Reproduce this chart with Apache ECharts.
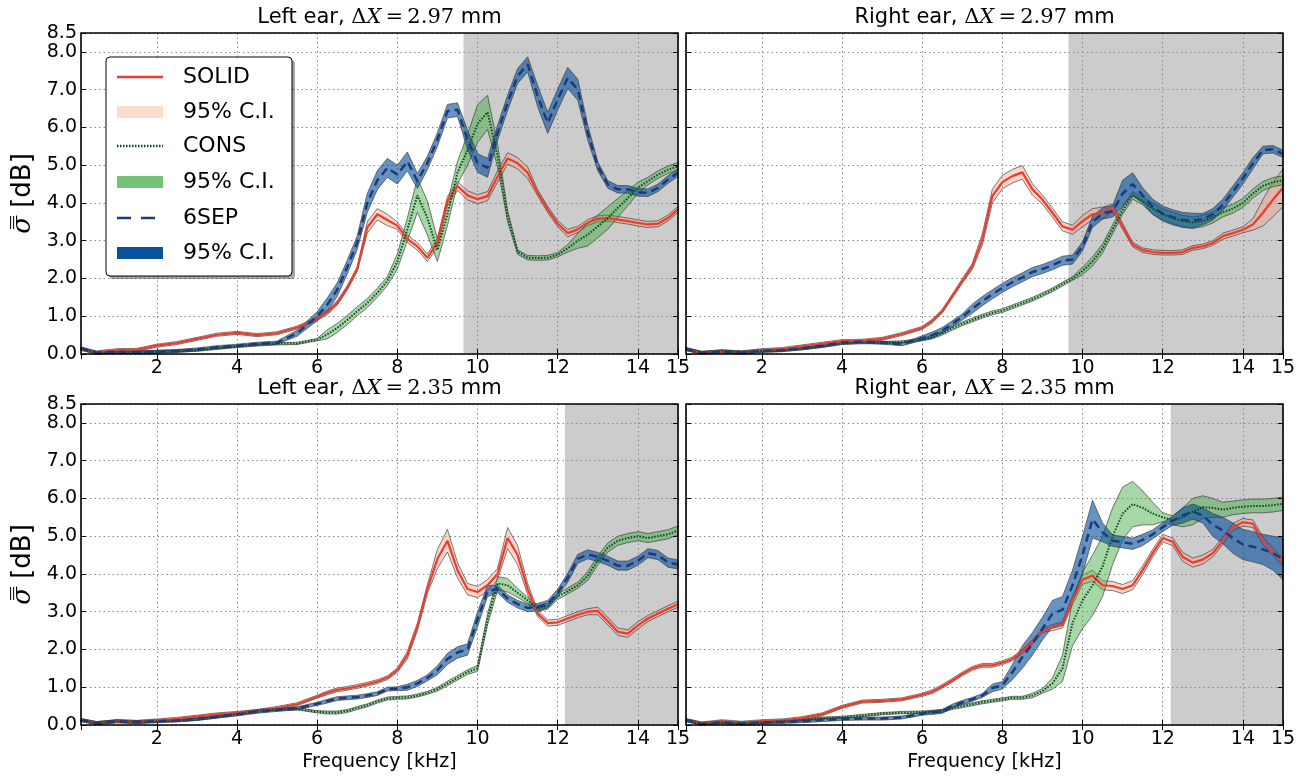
<!DOCTYPE html>
<html>
<head>
<meta charset="utf-8">
<title>sigma per ear</title>
<script src="https://cdn.jsdelivr.net/npm/echarts@6.0.0/dist/echarts.min.js"></script>
<style>
html, body { margin: 0; padding: 0; background: #fff; }
#chart { width: 1307px; height: 778px; }
</style>
</head>
<body>
<div id="chart"></div>
<script>
// frequency grid (kHz), shared by every curve
var F = [0.11,0.5,1,1.5,2,2.5,3,3.5,4,4.5,5,5.5,6,
  6.25,6.5,6.75,7,7.25,7.5,7.75,8,8.25,8.5,8.75,9,9.25,9.5,9.75,10,10.25,10.5,10.75,
  11,11.25,11.5,11.75,12,12.25,12.5,12.75,13,13.25,13.5,13.75,14,14.25,14.5,14.75,15];

// ---- Left ear, dX = 2.97 mm
var tlSolid = [0.13,0.04,0.10,0.11,0.22,0.29,0.40,0.51,0.56,0.50,0.55,0.70,0.93,
  1.10,1.35,1.75,2.25,3.35,3.70,3.55,3.40,3.05,2.85,2.55,2.95,4.05,4.45,4.20,4.10,4.18,4.70,5.18,
  5.05,4.80,4.27,3.83,3.45,3.20,3.30,3.48,3.58,3.60,3.56,3.52,3.47,3.43,3.45,3.60,3.83];
var tlSolidHw = [0.04,0.04,0.04,0.04,0.04,0.04,0.04,0.04,0.04,0.04,0.04,0.04,0.04,
  0.06,0.06,0.06,0.06,0.15,0.15,0.15,0.10,0.10,0.10,0.10,0.12,0.12,0.12,0.12,0.12,0.12,0.15,0.15,
  0.15,0.15,0.08,0.08,0.08,0.10,0.08,0.08,0.08,0.08,0.08,0.08,0.08,0.08,0.08,0.08,0.08];
var tlCons = [0.14,0.03,0.05,0.04,0.06,0.08,0.10,0.15,0.20,0.24,0.27,0.28,0.38,
  0.52,0.69,0.90,1.13,1.35,1.62,1.93,2.45,3.30,4.20,3.60,2.75,3.70,4.80,5.40,6.10,6.40,5.25,3.65,
  2.70,2.55,2.54,2.55,2.63,2.80,3.00,3.16,3.38,3.60,3.87,4.13,4.40,4.58,4.75,4.88,4.97];
var tlConsHw = [0.03,0.03,0.03,0.03,0.03,0.03,0.03,0.03,0.03,0.03,0.03,0.03,0.03,
  0.12,0.12,0.12,0.12,0.12,0.12,0.12,0.20,0.30,0.45,0.45,0.30,0.30,0.30,0.40,0.50,0.45,0.30,0.15,
  0.06,0.06,0.06,0.06,0.06,0.10,0.20,0.30,0.30,0.30,0.25,0.20,0.15,0.10,0.10,0.10,0.10];
var tlSep = [0.15,0.03,0.06,0.05,0.06,0.08,0.12,0.18,0.22,0.27,0.30,0.55,1.00,
  1.30,1.70,2.30,2.95,4.00,4.60,4.93,4.75,5.10,4.58,5.06,5.68,6.43,6.47,5.68,5.06,4.93,5.86,6.65,
  7.36,7.67,6.83,6.12,6.74,7.31,7.00,5.86,4.97,4.49,4.36,4.36,4.28,4.27,4.40,4.62,4.80];
var tlSepHw = [0.04,0.04,0.04,0.04,0.04,0.04,0.04,0.04,0.04,0.04,0.04,0.08,0.12,
  0.18,0.18,0.18,0.18,0.25,0.25,0.25,0.25,0.25,0.20,0.18,0.18,0.18,0.18,0.25,0.25,0.25,0.20,0.20,
  0.20,0.20,0.28,0.28,0.28,0.28,0.28,0.20,0.12,0.10,0.10,0.10,0.10,0.10,0.10,0.10,0.10];

// ---- Right ear, dX = 2.97 mm
var trSolid = [0.13,0.03,0.07,0.04,0.10,0.13,0.20,0.27,0.34,0.35,0.40,0.53,0.69,
  0.87,1.13,1.53,1.93,2.32,3.03,4.18,4.55,4.71,4.81,4.36,4.09,3.74,3.38,3.29,3.52,3.70,3.74,3.87,
  3.38,2.90,2.75,2.70,2.68,2.68,2.70,2.81,2.85,2.94,3.12,3.20,3.29,3.43,3.74,4.09,4.40];
var trSolidHw = [0.04,0.04,0.04,0.04,0.04,0.04,0.04,0.04,0.04,0.04,0.04,0.04,0.04,
  0.05,0.05,0.05,0.06,0.08,0.15,0.18,0.18,0.18,0.18,0.15,0.12,0.12,0.12,0.12,0.15,0.15,0.15,0.10,
  0.08,0.06,0.06,0.06,0.06,0.06,0.06,0.06,0.06,0.06,0.08,0.08,0.08,0.15,0.35,0.45,0.50];
var trCons = [0.13,0.03,0.07,0.04,0.08,0.10,0.14,0.20,0.28,0.30,0.30,0.32,0.38,
  0.45,0.55,0.68,0.80,0.90,1.00,1.09,1.15,1.25,1.35,1.45,1.57,1.70,1.85,2.00,2.20,2.45,2.80,3.30,
  3.80,4.20,4.05,3.85,3.70,3.60,3.52,3.48,3.52,3.62,3.75,3.85,4.00,4.25,4.45,4.55,4.60];
var trConsHw = [0.03,0.03,0.03,0.03,0.03,0.03,0.03,0.03,0.03,0.03,0.03,0.03,0.03,
  0.05,0.05,0.05,0.05,0.05,0.05,0.05,0.05,0.05,0.05,0.05,0.05,0.05,0.05,0.05,0.10,0.12,0.12,0.12,
  0.10,0.10,0.10,0.15,0.15,0.15,0.15,0.15,0.15,0.15,0.12,0.12,0.12,0.12,0.12,0.12,0.12];
var trSep = [0.13,0.03,0.07,0.04,0.08,0.10,0.15,0.22,0.30,0.33,0.30,0.26,0.42,
  0.50,0.62,0.80,0.98,1.20,1.40,1.58,1.75,1.90,2.03,2.17,2.25,2.35,2.47,2.50,2.85,3.50,3.72,3.78,
  4.25,4.50,4.20,3.90,3.72,3.62,3.55,3.53,3.57,3.70,3.95,4.30,4.65,5.05,5.40,5.42,5.30];
var trSepHw = [0.04,0.04,0.04,0.04,0.04,0.04,0.04,0.04,0.04,0.04,0.04,0.04,0.06,
  0.08,0.08,0.08,0.08,0.12,0.12,0.12,0.12,0.12,0.12,0.12,0.12,0.12,0.12,0.12,0.12,0.15,0.15,0.15,
  0.35,0.30,0.20,0.20,0.20,0.20,0.20,0.20,0.15,0.15,0.15,0.15,0.15,0.15,0.10,0.10,0.10];

// ---- Left ear, dX = 2.35 mm
var blSolid = [0.13,0.05,0.10,0.08,0.12,0.16,0.22,0.28,0.32,0.37,0.45,0.55,0.75,
  0.85,0.93,0.97,1.02,1.08,1.15,1.25,1.45,1.85,2.60,3.60,4.40,4.88,4.10,3.60,3.52,3.70,4.00,4.95,
  4.50,3.60,2.95,2.70,2.72,2.82,2.92,3.00,3.02,2.75,2.47,2.42,2.64,2.82,2.95,3.08,3.20];
var blSolidHw = [0.04,0.04,0.04,0.04,0.04,0.04,0.04,0.04,0.04,0.04,0.04,0.04,0.04,
  0.05,0.05,0.05,0.05,0.05,0.05,0.05,0.06,0.10,0.10,0.12,0.25,0.30,0.20,0.15,0.15,0.15,0.15,0.28,
  0.25,0.15,0.08,0.08,0.08,0.08,0.08,0.08,0.10,0.10,0.10,0.10,0.10,0.08,0.08,0.08,0.08];
var blCons = [0.13,0.05,0.10,0.08,0.10,0.12,0.15,0.22,0.30,0.38,0.42,0.43,0.35,
  0.33,0.33,0.37,0.45,0.52,0.62,0.70,0.72,0.73,0.78,0.85,0.95,1.10,1.25,1.40,1.50,2.80,3.75,3.70,
  3.50,3.30,3.08,3.15,3.40,3.55,3.70,3.95,4.36,4.70,4.88,4.95,5.00,4.95,5.00,5.05,5.15];
var blConsHw = [0.03,0.03,0.03,0.03,0.03,0.03,0.03,0.03,0.03,0.03,0.03,0.03,0.03,
  0.04,0.04,0.04,0.04,0.04,0.04,0.04,0.04,0.04,0.04,0.04,0.05,0.06,0.06,0.06,0.08,0.15,0.18,0.18,
  0.12,0.08,0.08,0.08,0.08,0.08,0.08,0.12,0.12,0.12,0.12,0.12,0.12,0.12,0.12,0.12,0.12];
var blSep = [0.13,0.05,0.10,0.08,0.10,0.12,0.16,0.22,0.28,0.35,0.40,0.44,0.56,
  0.63,0.70,0.72,0.74,0.78,0.83,0.95,0.96,1.00,1.10,1.25,1.45,1.75,1.92,2.00,2.80,3.55,3.60,3.35,
  3.20,3.10,3.12,3.20,3.50,3.90,4.40,4.52,4.45,4.35,4.22,4.22,4.35,4.55,4.50,4.30,4.25];
var blSepHw = [0.04,0.04,0.04,0.04,0.04,0.04,0.04,0.04,0.04,0.04,0.04,0.04,0.04,
  0.05,0.05,0.05,0.05,0.05,0.05,0.05,0.05,0.08,0.08,0.08,0.12,0.15,0.15,0.15,0.20,0.15,0.10,0.10,
  0.10,0.10,0.10,0.10,0.10,0.12,0.12,0.12,0.12,0.12,0.12,0.12,0.12,0.12,0.12,0.12,0.12];

// ---- Right ear, dX = 2.35 mm
var brSolid = [0.13,0.04,0.10,0.06,0.10,0.12,0.18,0.28,0.48,0.62,0.64,0.68,0.80,
  0.88,1.02,1.18,1.35,1.50,1.58,1.58,1.65,1.75,1.95,2.20,2.50,2.58,2.65,3.30,3.85,3.95,3.70,3.68,
  3.60,3.70,4.10,4.55,4.95,4.85,4.45,4.30,4.38,4.55,4.88,5.24,5.37,5.33,4.88,4.58,4.31];
var brSolidHw = [0.04,0.04,0.04,0.04,0.04,0.04,0.04,0.04,0.04,0.04,0.04,0.04,0.04,
  0.05,0.05,0.05,0.05,0.05,0.05,0.05,0.05,0.05,0.05,0.05,0.05,0.08,0.08,0.12,0.12,0.15,0.12,0.12,
  0.12,0.12,0.12,0.10,0.10,0.10,0.12,0.12,0.12,0.10,0.10,0.10,0.10,0.10,0.10,0.10,0.10];
var brCons = [0.13,0.03,0.07,0.04,0.07,0.10,0.13,0.18,0.20,0.25,0.30,0.33,0.34,
  0.35,0.37,0.45,0.50,0.55,0.60,0.64,0.68,0.72,0.72,0.78,0.90,1.10,1.50,2.70,3.30,3.70,4.20,5.00,
  5.60,5.85,5.75,5.60,5.50,5.42,5.50,5.65,5.77,5.75,5.70,5.75,5.78,5.80,5.80,5.82,5.86];
var brConsHw = [0.03,0.03,0.03,0.03,0.03,0.03,0.03,0.03,0.03,0.03,0.03,0.03,0.03,
  0.04,0.04,0.04,0.04,0.04,0.04,0.04,0.04,0.04,0.04,0.06,0.06,0.15,0.35,0.60,0.75,0.80,0.80,0.75,
  0.70,0.60,0.45,0.30,0.12,0.12,0.25,0.35,0.30,0.25,0.20,0.18,0.18,0.18,0.18,0.18,0.18];
var brSep = [0.13,0.03,0.07,0.04,0.07,0.08,0.10,0.13,0.16,0.17,0.17,0.20,0.30,
  0.33,0.36,0.50,0.60,0.68,0.78,0.98,1.05,1.40,1.80,2.15,2.55,2.95,3.05,3.70,4.50,5.45,5.10,4.88,
  4.84,4.80,4.90,5.05,5.24,5.41,5.55,5.65,5.55,5.30,5.15,4.95,4.78,4.72,4.65,4.55,4.40];
var brSepHw = [0.04,0.04,0.04,0.04,0.04,0.04,0.04,0.04,0.04,0.04,0.04,0.04,0.04,
  0.05,0.05,0.05,0.05,0.05,0.05,0.10,0.10,0.20,0.30,0.30,0.30,0.35,0.35,0.40,0.50,0.50,0.25,0.15,
  0.15,0.15,0.15,0.12,0.12,0.12,0.20,0.20,0.20,0.30,0.35,0.40,0.40,0.40,0.40,0.45,0.55];

var shadeStart = [9.65, 9.65, 12.18, 12.2];
var sides = ['Left', 'Right', 'Left', 'Right'];
var spacings = ['2.97', '2.97', '2.35', '2.35'];

var panels = [
  [tlSolid, tlSolidHw, tlCons, tlConsHw, tlSep, tlSepHw],
  [trSolid, trSolidHw, trCons, trConsHw, trSep, trSepHw],
  [blSolid, blSolidHw, blCons, blConsHw, blSep, blSepHw],
  [brSolid, brSolidHw, brCons, brConsHw, brSep, brSepHw]
];

var FONT = 'DejaVu Sans';
var RED = '#ee3b2b', GREEN = '#0b4a1e', NAVY = '#1d3b78';
var EDGE = 'rgba(60,60,60,0.85)';
var boxes = [[81, 33], [686, 33], [81, 404], [686, 404]];
var W = 597, H = 321;

var chart = echarts.init(document.getElementById('chart'));

function fmtX(v) {
  return Math.abs(v - Math.round(v)) < 1e-6 ? String(Math.round(v)) : '';
}

// confidence band drawn as one polygon through the axis scales
function bandSeries(g, mean, hw, fill) {
  var lo = mean.map(function (m, i) { return Math.max(0, m - hw[i]); });
  var hi = mean.map(function (m, i) { return m + hw[i]; });
  return {
    type: 'custom', xAxisIndex: g, yAxisIndex: g, silent: true, z: 2,
    encode: { x: 0, y: [1, 2] },
    data: F.map(function (f, i) { return [f, lo[i], hi[i]]; }),
    renderItem: function (params, api) {
      if (params.dataIndex !== 0) return null;
      var pts = [], i;
      for (i = 0; i < F.length; i++) pts.push(api.coord([F[i], hi[i]]));
      for (i = F.length - 1; i >= 0; i--) pts.push(api.coord([F[i], lo[i]]));
      return {
        type: 'polygon', shape: { points: pts },
        style: { fill: fill, stroke: EDGE, lineWidth: 0.8 }
      };
    }
  };
}

var grids = [], xAxes = [], yAxes = [], series = [], graphics = [];

boxes.forEach(function (b, g) {
  var isLeft = g % 2 === 0, isBottom = g >= 2;
  grids.push({
    left: b[0], top: b[1], width: W, height: H, z: 5,
    show: true, borderColor: '#000', borderWidth: 1.6, backgroundColor: 'transparent',
    outerBoundsMode: 'none'
  });
  var tick = { show: true, inside: true, length: 5, lineStyle: { color: '#000', width: 1 } };
  xAxes.push({
    type: 'value', gridIndex: g, z: 1.5, min: 0.11, max: 15, splitNumber: 7, minInterval: 2, maxInterval: 2,
    axisLine: { show: false }, axisTick: tick,
    axisLabel: { color: '#000', fontSize: 19, fontFamily: FONT, margin: 5, formatter: fmtX, showMinLabel: false },
    splitLine: { show: true, lineStyle: { color: '#8a8a8a', width: 1, type: [1.5, 3] } },
    name: isBottom ? 'Frequency [kHz]' : '', nameLocation: 'middle', nameGap: 28,
    nameTextStyle: { color: '#000', fontSize: 19, fontFamily: FONT }
  });
  yAxes.push({
    type: 'value', gridIndex: g, z: 1.5, min: 0, max: 8.5, interval: 1,
    axisLine: { show: false }, axisTick: tick,
    axisLabel: { show: isLeft, color: '#000', fontSize: 19, fontFamily: FONT, margin: 4,
      formatter: function (v) { return v.toFixed(1); } },
    splitLine: { show: true, lineStyle: { color: '#8a8a8a', width: 1, type: [1.5, 3] } },
    name: isLeft ? '{s|σ̿} [dB]' : '', nameLocation: 'middle', nameGap: 45, nameRotate: 90,
    nameTextStyle: { color: '#000', fontSize: 26, fontFamily: FONT,
      rich: { s: { fontFamily: 'DejaVu Serif', fontStyle: 'italic', fontSize: 26 } } }
  });

  // shaded region
  series.push({
    type: 'line', xAxisIndex: g, yAxisIndex: g, data: [], z: -1, silent: true,
    markArea: { silent: true, z: -1, itemStyle: { color: '#cccccc' },
      data: [[{ xAxis: shadeStart[g] }, { xAxis: 15 }]] }
  });

  var p = panels[g];
  series.push(bandSeries(g, p[0], p[1], 'rgba(240,160,135,0.42)'));
  series.push(bandSeries(g, p[2], p[3], 'rgba(60,165,60,0.45)'));
  series.push(bandSeries(g, p[4], p[5], 'rgba(8,81,156,0.62)'));

  series.push({
    type: 'line', xAxisIndex: g, yAxisIndex: g, symbol: 'none', silent: true, z: 4,
    lineStyle: { color: RED, width: 2.2 },
    data: F.map(function (f, i) { return [f, p[0][i]]; })
  });
  series.push({
    type: 'line', xAxisIndex: g, yAxisIndex: g, symbol: 'none', silent: true, z: 4,
    lineStyle: { color: GREEN, width: 2, type: [1.5, 1.5] },
    data: F.map(function (f, i) { return [f, p[2][i]]; })
  });
  series.push({
    type: 'line', xAxisIndex: g, yAxisIndex: g, symbol: 'none', silent: true, z: 4,
    lineStyle: { color: NAVY, width: 2.5, type: [8, 5] },
    data: F.map(function (f, i) { return [f, p[4][i]]; })
  });

  graphics.push({
    type: 'text', x: b[0] + W / 2, y: b[1] - 15, silent: true,
    style: {
      text: '{a|' + sides[g] + ' ear, }{m|Δ}{x|X}{m|\u2009=\u2009' + spacings[g] + '}{a| mm}',
      align: 'center', verticalAlign: 'middle',
      rich: {
        a: { fontFamily: FONT, fontSize: 21, fill: '#000' },
        m: { fontFamily: 'DejaVu Serif', fontSize: 21, fill: '#000' },
        x: { fontFamily: 'DejaVu Serif', fontStyle: 'italic', fontSize: 21, fill: '#000' }
      }
    }
  });
});

// tick marks on the top and right edges
boxes.forEach(function (b, g) {
  var tick = { show: true, inside: true, length: 5, lineStyle: { color: '#000', width: 1 } };
  xAxes.push({
    type: 'value', gridIndex: g, z: 5, position: 'top', min: 0.11, max: 15, splitNumber: 7,
    minInterval: 2, maxInterval: 2, axisLine: { show: false }, axisTick: tick,
    axisLabel: { show: false }, splitLine: { show: false }
  });
  yAxes.push({
    type: 'value', gridIndex: g, z: 5, position: 'right', min: 0, max: 8.5, interval: 1,
    axisLine: { show: false }, axisTick: tick, axisLabel: { show: false }, splitLine: { show: false }
  });
});

// legend box
var legendRows = [
  { label: 'SOLID', kind: 'line', color: RED, y: 77 },
  { label: '95% C.I.', kind: 'patch', color: '#fcdccd', y: 112 },
  { label: 'CONS', kind: 'line', color: GREEN, dash: [1.5, 1.5], y: 146 },
  { label: '95% C.I.', kind: 'patch', color: '#74c476', y: 182 },
  { label: '6SEP', kind: 'line', color: NAVY, dash: [14, 10], y: 218 },
  { label: '95% C.I.', kind: 'patch', color: '#08519c', y: 253 }
];
graphics.push({ type: 'rect', silent: true, shape: { x: 109, y: 60, width: 186, height: 219, r: 4 },
  style: { fill: 'rgba(0,0,0,0.35)' }, z: 100 });
graphics.push({ type: 'rect', silent: true, shape: { x: 106, y: 57, width: 186, height: 219, r: 4 },
  style: { fill: '#fff', stroke: '#000', lineWidth: 1 }, z: 101 });
legendRows.forEach(function (r) {
  if (r.kind === 'line') {
    graphics.push({ type: 'line', silent: true, z: 102,
      shape: { x1: 117, y1: r.y, x2: 163, y2: r.y },
      style: { stroke: r.color, lineWidth: 2.4, lineDash: r.dash || null } });
  } else {
    graphics.push({ type: 'rect', silent: true, z: 102,
      shape: { x: 117, y: r.y - 6, width: 46, height: 12 }, style: { fill: r.color } });
  }
  graphics.push({ type: 'text', silent: true, z: 102, x: 183, y: r.y,
    style: { text: r.label, fontFamily: FONT, fontSize: 22, fill: '#000', verticalAlign: 'middle' } });
});

chart.setOption({
  backgroundColor: '#fff',
  animation: false,
  grid: grids,
  xAxis: xAxes,
  yAxis: yAxes,
  series: series,
  graphic: graphics
});
</script>
</body>
</html>
